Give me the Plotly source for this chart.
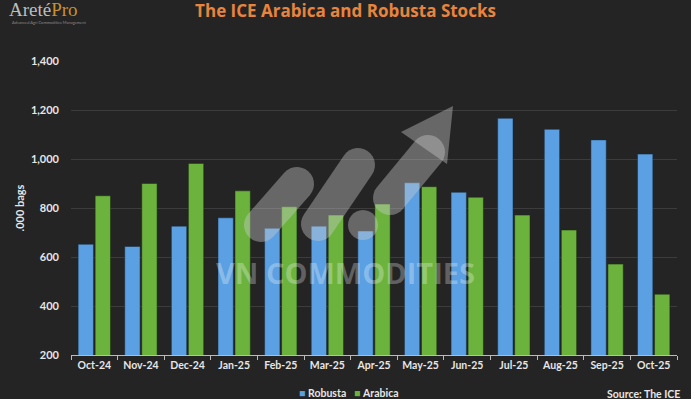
import math
import plotly.graph_objects as go

months = ["Oct-24", "Nov-24", "Dec-24", "Jan-25", "Feb-25", "Mar-25", "Apr-25",
          "May-25", "Jun-25", "Jul-25", "Aug-25", "Sep-25", "Oct-25"]
robusta = [652, 643, 726, 760, 717, 726, 706, 903, 864, 1166, 1121, 1078, 1020]
arabica = [850, 900, 982, 870, 805, 771, 816, 887, 844, 771, 710, 571, 448]
y_ticks = [200, 400, 600, 800, 1000, 1200, 1400]

BG = "#242424"
BLUE = "#5aa0e2"
GREEN = "#6cb33e"
TXT = "#e6e6e6"
FONT = "Lato"

W, H = 691, 399
ML, MR, MT, MB = 71, 14, 61, 44
PW, PH = W - ML - MR, H - MT - MB


def px2paper(X, Y):
    return (X - ML) / PW, (H - MB - Y) / PH


def capsule(x0, y0, x1, y1, r, n=14):
    # decorative watermark capsule, built in pixel space then mapped to paper space
    ang = math.atan2(y1 - y0, x1 - x0)
    pts = []
    for i in range(n + 1):
        a = ang - math.pi / 2 + math.pi * i / n
        pts.append((x1 + r * math.cos(a), y1 + r * math.sin(a)))
    for i in range(n + 1):
        a = ang + math.pi / 2 + math.pi * i / n
        pts.append((x0 + r * math.cos(a), y0 + r * math.sin(a)))
    pp = [px2paper(x, y) for x, y in pts]
    return "M " + " L ".join(f"{x:.4f},{y:.4f}" for x, y in pp) + " Z"


def poly(points):
    pp = [px2paper(x, y) for x, y in points]
    return "M " + " L ".join(f"{x:.4f},{y:.4f}" for x, y in pp) + " Z"


fig = go.Figure()
fig.add_trace(go.Bar(x=months, y=robusta, name="Robusta", showlegend=False,
                     marker=dict(color=BLUE, line=dict(color="#1a2a3a", width=0.5))))
fig.add_trace(go.Bar(x=months, y=arabica, name="Arabica", showlegend=False,
                     marker=dict(color=GREEN, line=dict(color="#1a2a10", width=0.5))))

wm = "rgba(205,205,205,0.40)"
wm_paths = [
    capsule(261, 225, 297, 184, 17),
    capsule(318, 224, 358, 165, 17),
    capsule(363, 225, 363, 225, 15),
    capsule(390, 198, 428, 152, 17),
]
shapes = [dict(type="path", xref="paper", yref="paper", path=p, fillcolor=wm,
               line=dict(width=0), layer="above") for p in wm_paths]
# arrow head
shapes.append(dict(type="path", xref="paper", yref="paper",
                   path=poly([(401, 132), (453, 106), (447, 164)]),
                   fillcolor=wm, line=dict(width=0), layer="above"))

fig.update_layout(
    width=W, height=H,
    paper_bgcolor=BG, plot_bgcolor=BG,
    margin=dict(l=ML, r=MR, t=MT, b=MB),
    font=dict(family=FONT, color=TXT, size=11),
    barmode="group", bargap=0.27, bargroupgap=0.1,
    shapes=shapes,
    showlegend=False,
    title=dict(text="<b>The ICE Arabica and Robusta Stocks</b>", x=0.5, xanchor="center",
               y=0.972, yanchor="middle",
               font=dict(family="Open Sans", size=17, color="#e8843e")),
    xaxis=dict(showgrid=False, ticks="outside", tickson="boundaries", ticklen=4,
               tickcolor="#bbbbbb", showline=True, linecolor="#bbbbbb", linewidth=1,
               tickangle=0, automargin=False,
               tickfont=dict(family=FONT, size=10.5, color=TXT, weight="bold"),
               range=[-0.5, 12.5]),
    yaxis=dict(range=[200, 1400], tickvals=y_ticks, tickformat=",",
               showgrid=True, gridcolor="#3c3c3c", gridwidth=1, zeroline=False,
               automargin=False,
               tickfont=dict(size=11, color=TXT, weight="bold"), ticks="", ticklabelstandoff=11,
               title=dict(text=".000 bags", font=dict(size=11, color=TXT, weight="bold"),
                          standoff=4)),
)

lx, ly = px2paper(297, 393)
lx2, _ = px2paper(352, 393)
sx, sy = px2paper(682, 394)
wx, wy = px2paper(345, 272)
gx, gy = px2paper(7, 10)
tx, ty = px2paper(10, 18)

fig.update_layout(annotations=[
    dict(text="<b>VN COMMODITIES</b>", xref="paper", yref="paper", x=wx, y=wy,
         xanchor="center", yanchor="middle",
         showarrow=False, font=dict(family="Open Sans", size=29, color="rgba(255,255,255,0.28)")),
    dict(text="<span style='color:#bdbdbd'>Areté</span><span style='color:#c8902e'>Pro</span>",
         xref="paper", yref="paper", x=gx, y=gy, xanchor="left", yanchor="middle",
         showarrow=False, font=dict(family="Liberation Serif", size=19)),
    dict(text="Advanced Agri Commodities Management", xref="paper", yref="paper",
         x=tx, y=ty, xanchor="left", yanchor="top", showarrow=False,
         font=dict(family=FONT, size=4, color="#8a8a8a")),
    dict(text=f"<span style='color:{BLUE}'>■</span> <b>Robusta</b>", xref="paper", yref="paper",
         x=lx, y=ly, xanchor="left", yanchor="middle", showarrow=False,
         font=dict(family=FONT, size=10.5, color=TXT)),
    dict(text=f"<span style='color:{GREEN}'>■</span> <b>Arabica</b>", xref="paper", yref="paper",
         x=lx2, y=ly, xanchor="left", yanchor="middle", showarrow=False,
         font=dict(family=FONT, size=10.5, color=TXT)),
    dict(text="<b>Source: The ICE</b>", xref="paper", yref="paper", x=sx, y=sy,
         xanchor="right", yanchor="middle", showarrow=False,
         font=dict(family=FONT, size=10.5, color=TXT)),
])

fig.write_html("out.html", config={"displayModeBar": False},
               post_script="document.body.style.margin='0';document.body.style.overflow='hidden';")
